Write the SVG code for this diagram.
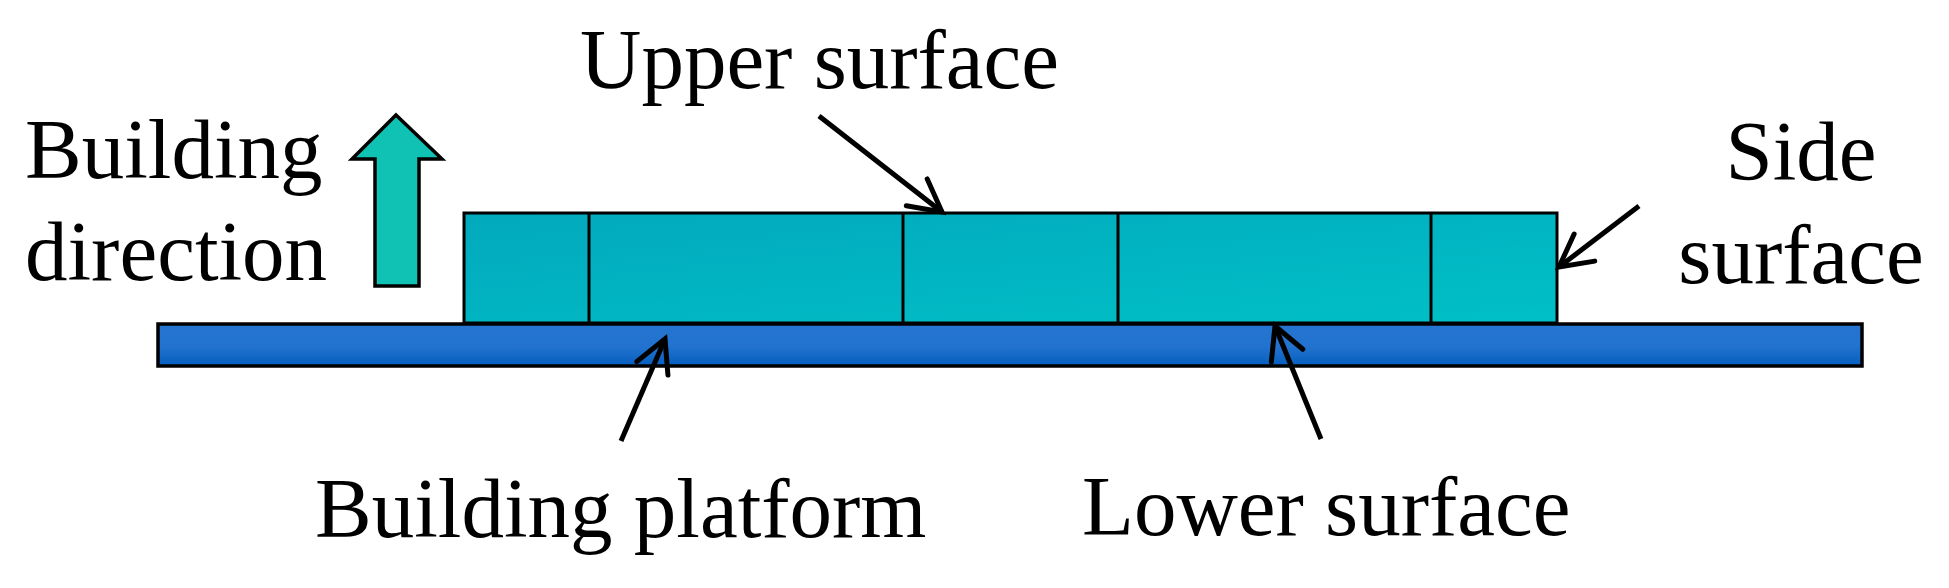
<svg xmlns="http://www.w3.org/2000/svg" width="1949" height="588" viewBox="0 0 1949 588">
  <style>
    .lbl { font-family: "Liberation Serif", "Times New Roman", serif; font-size: 85px; fill: #000; }
    .conn { stroke: #000; stroke-width: 5; fill: none; marker-end: url(#open); }
    .edge { stroke: #000; stroke-width: 3; }
  </style>
  <defs>
    <linearGradient id="gBlock" x1="0" y1="0" x2="1" y2="1">
      <stop offset="0" stop-color="#02A9BD"/>
      <stop offset="1" stop-color="#00C0C6"/>
    </linearGradient>
    <linearGradient id="gPlat" x1="0" y1="0" x2="0" y2="1">
      <stop offset="0" stop-color="#2474D0"/>
      <stop offset="0.55" stop-color="#2272CF"/>
      <stop offset="1" stop-color="#045EBE"/>
    </linearGradient>
    <marker id="open" markerUnits="userSpaceOnUse" viewBox="-40 -24 48 48" markerWidth="48" markerHeight="48" refX="0" refY="0" orient="auto" overflow="visible">
      <path d="M -32 -17 L 0 0 L -32 17" fill="none" stroke="#000" stroke-width="5" stroke-linecap="round"/>
    </marker>
  </defs>
  <rect width="1949" height="588" fill="#fff"/>

  <g id="platform">
    <rect x="158" y="324" width="1704" height="42" fill="url(#gPlat)" stroke="#000" stroke-width="3.5"/>
  </g>

  <g id="part">
    <rect x="464" y="213" width="1093" height="110" fill="url(#gBlock)" stroke="#000" stroke-width="3"/>
    <line class="edge" x1="589" y1="213" x2="589" y2="323"/>
    <line class="edge" x1="903" y1="213" x2="903" y2="323"/>
    <line class="edge" x1="1118" y1="213" x2="1118" y2="323"/>
    <line class="edge" x1="1431" y1="213" x2="1431" y2="323"/>
  </g>

  <g id="build-arrow">
    <polygon points="396,115 442,159 419,159 419,286 375,286 375,159 352,159" fill="#0FC2B4" stroke="#000" stroke-width="3.5" stroke-linejoin="miter"/>
  </g>

  <g id="label-building-direction">
    <text class="lbl" x="25" y="178">Building</text>
    <text class="lbl" x="25" y="280">direction</text>
  </g>
  <g id="label-upper">
    <text class="lbl" x="580" y="88">Upper surface</text>
  </g>
  <g id="label-side">
    <text class="lbl" x="1801" y="180" text-anchor="middle">Side</text>
    <text class="lbl" x="1801" y="283" text-anchor="middle">surface</text>
  </g>
  <g id="label-platform">
    <text class="lbl" x="315" y="537">Building platform</text>
  </g>
  <g id="label-lower">
    <text class="lbl" x="1082" y="535">Lower surface</text>
  </g>

  <g id="connectors">
    <line class="conn" x1="819" y1="116" x2="942" y2="212"/>
    <line class="conn" x1="1639" y1="206" x2="1559" y2="267"/>
    <line class="conn" x1="621" y1="441" x2="665" y2="339"/>
    <line class="conn" x1="1321" y1="439" x2="1275" y2="326"/>
  </g>
</svg>
